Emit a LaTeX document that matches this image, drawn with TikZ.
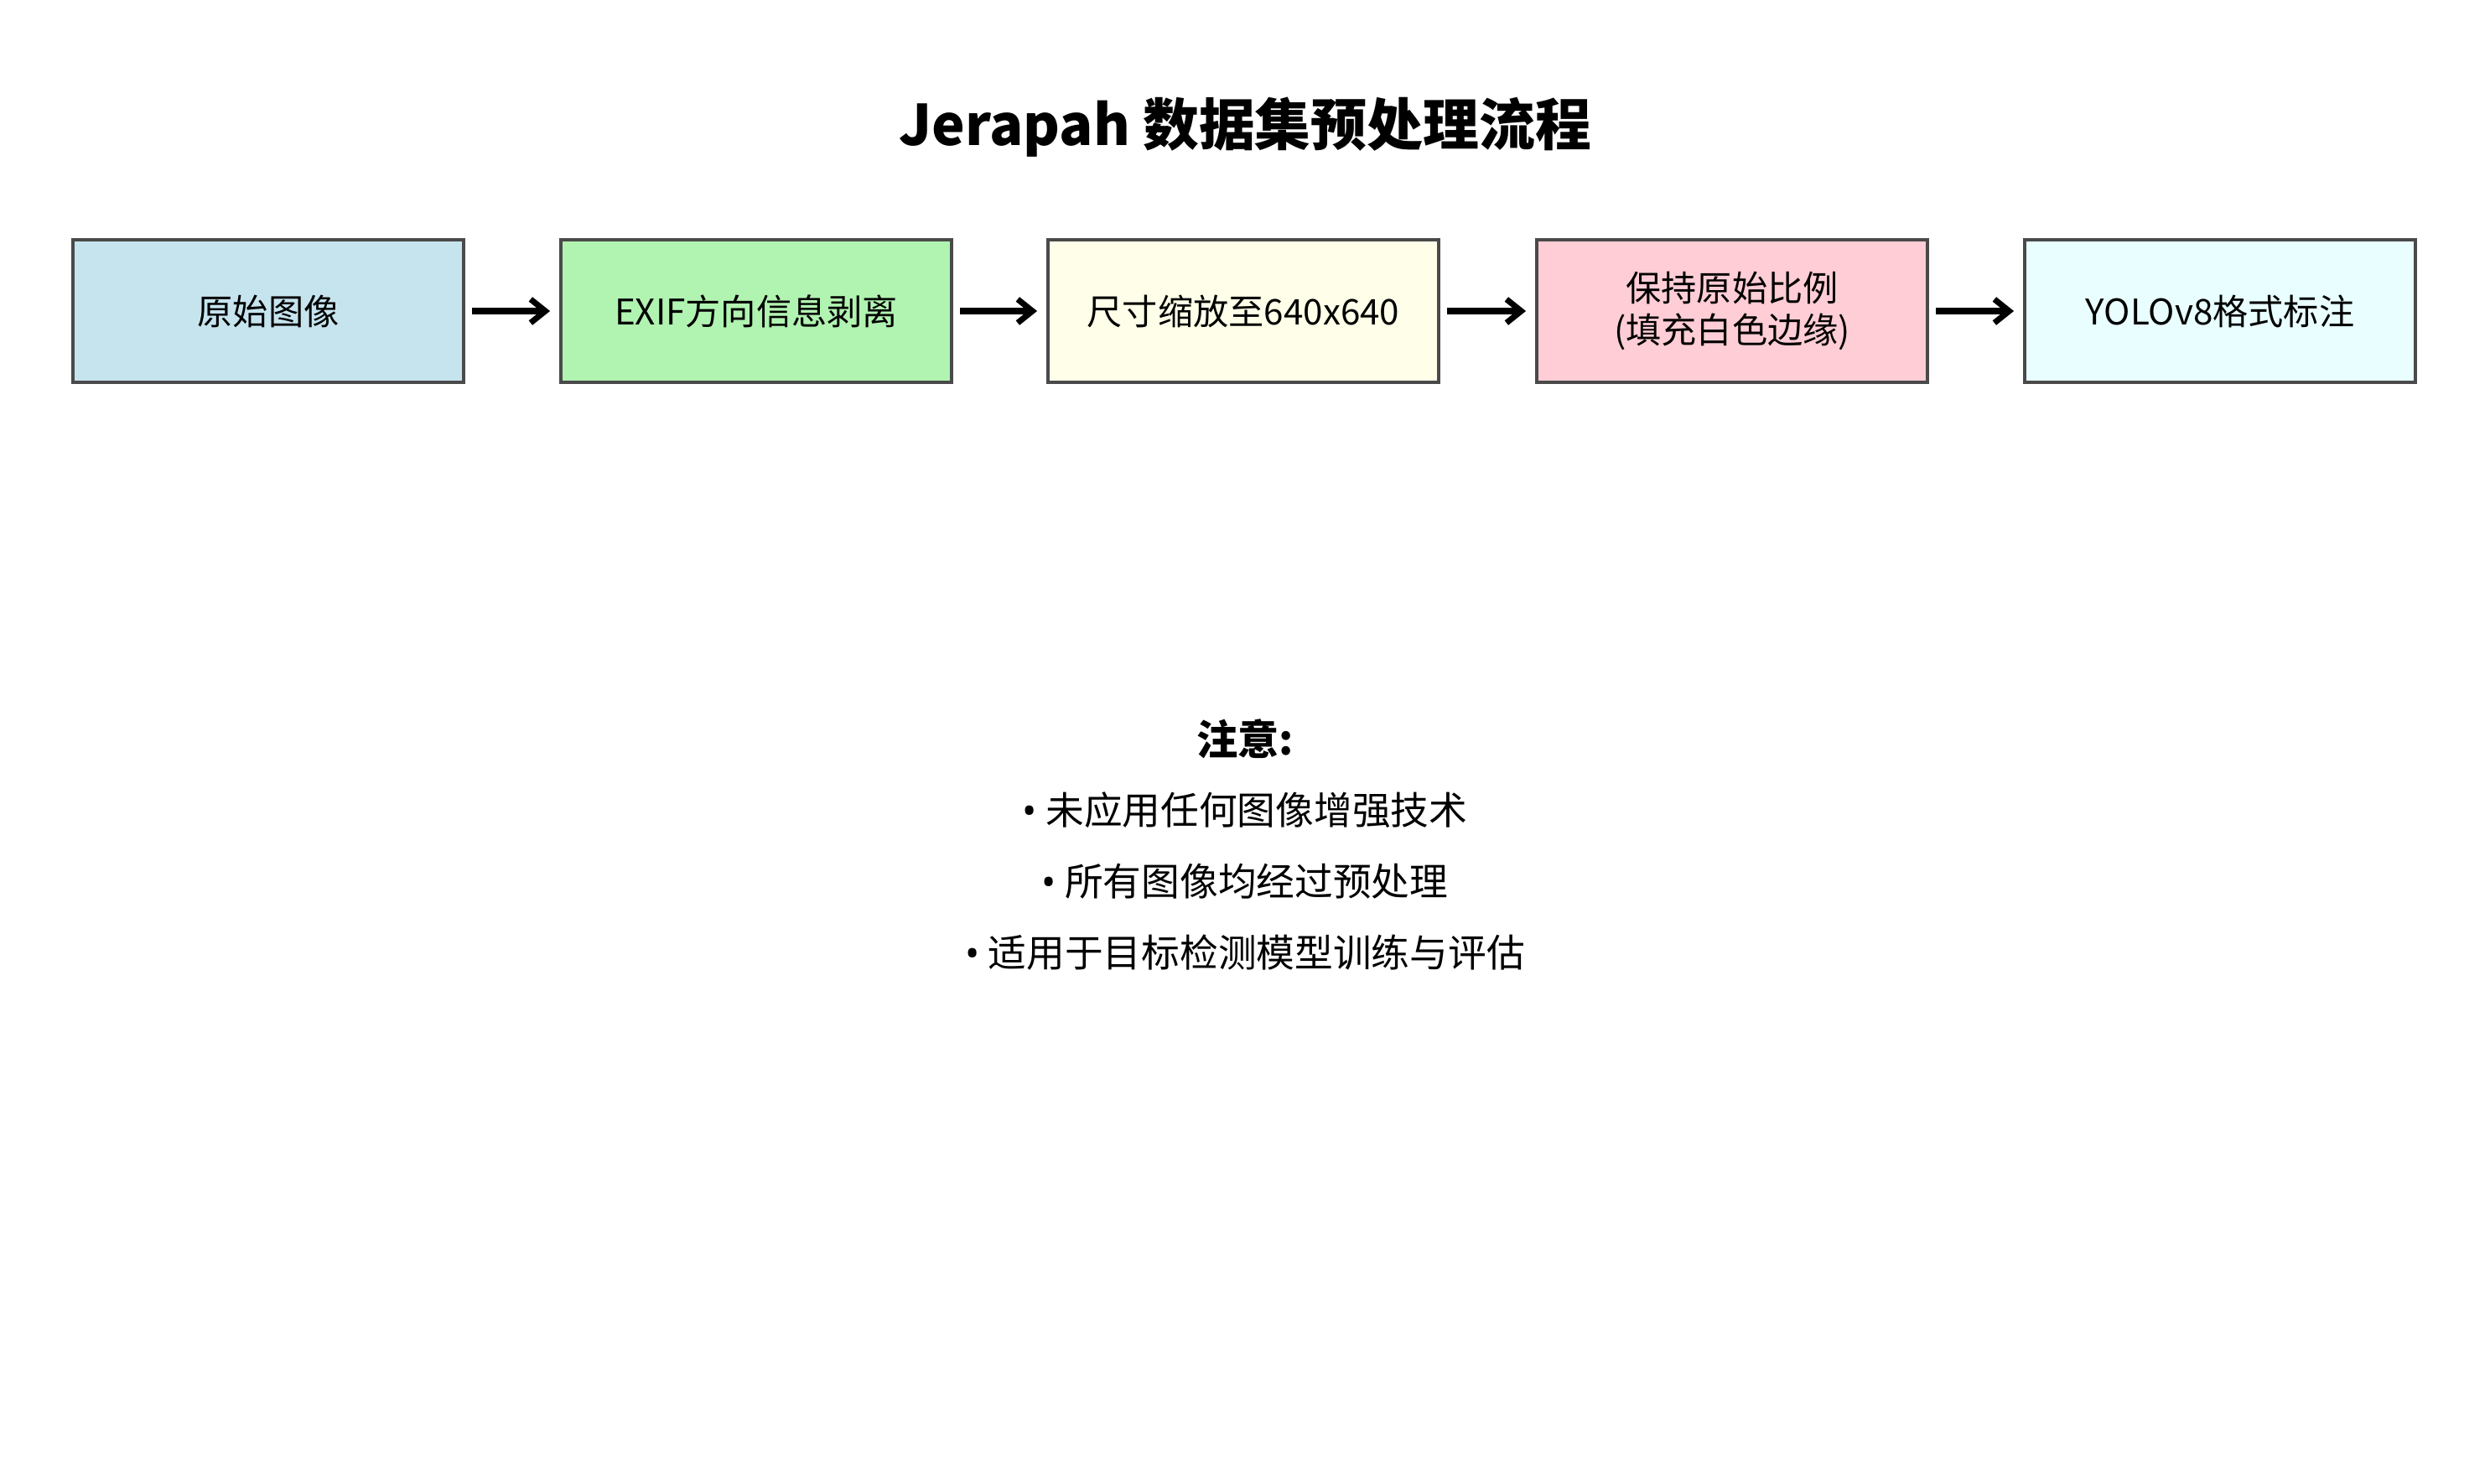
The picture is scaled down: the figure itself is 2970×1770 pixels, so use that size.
\documentclass[tikz,border=0pt]{standalone}
\usepackage{fontspec}
\setmainfont{Noto Sans CJK SC}
\newfontfamily\latinf{Noto Sans}
\usetikzlibrary{arrows.meta}
\definecolor{cA}{HTML}{C6E4EE}
\definecolor{cB}{HTML}{B1F3B1}
\definecolor{cC}{HTML}{FFFFE9}
\definecolor{cD}{HTML}{FFCDD5}
\definecolor{cE}{HTML}{E9FFFF}
\definecolor{edge}{HTML}{4A4A4A}
\newcommand{\bul}{{\latinf •}\ }
\tikzset{
  stepbox/.style={draw=edge, line width=1.1pt, minimum width=466*0.01cm, minimum height=170*0.01cm, inner sep=0pt, align=center, font=\fontsize{12}{14}\selectfont},
  flow/.style={line width=2pt, -{Straight Barb[length=5pt,width=8pt,line width=2pt]}, shorten <=8*0.01cm, shorten >=11*0.01cm},
  note/.style={font=\fontsize{13}{15}\selectfont, anchor=center}
}
\begin{document}
\begin{tikzpicture}[x=0.01cm,y=-0.01cm]
\useasboundingbox (0,0) rectangle (2970,1770);
\node[font=\fontsize{19}{22}\selectfont\bfseries] (title) at (1485,152) {Jerapah 数据集预处理流程};
\node[stepbox, fill=cA] (b1) at (320,371) {原始图像};
\node[stepbox, fill=cB] (b2) at (902,371) {EXIF方向信息剥离};
\node[stepbox, fill=cC] (b3) at (1483,371) {尺寸缩放至640x640};
\node[stepbox, fill=cD] (b4) at (2066,371) {保持原始比例\\(填充白色边缘)};
\node[stepbox, fill=cE] (b5) at (2648,371) {YOLOv8格式标注};
\draw[flow] (b1) -- (b2);
\draw[flow] (b2) -- (b3);
\draw[flow] (b3) -- (b4);
\draw[flow] (b4) -- (b5);
\node[note, font=\fontsize{14}{16}\selectfont\bfseries] (n0) at (1485,881) {注意:};
\node[note] (n1) at (1485,966) {\bul 未应用任何图像增强技术};
\node[note] (n2) at (1485,1051) {\bul 所有图像均经过预处理};
\node[note] (n3) at (1485,1136) {\bul 适用于目标检测模型训练与评估};
\end{tikzpicture}
\end{document}
